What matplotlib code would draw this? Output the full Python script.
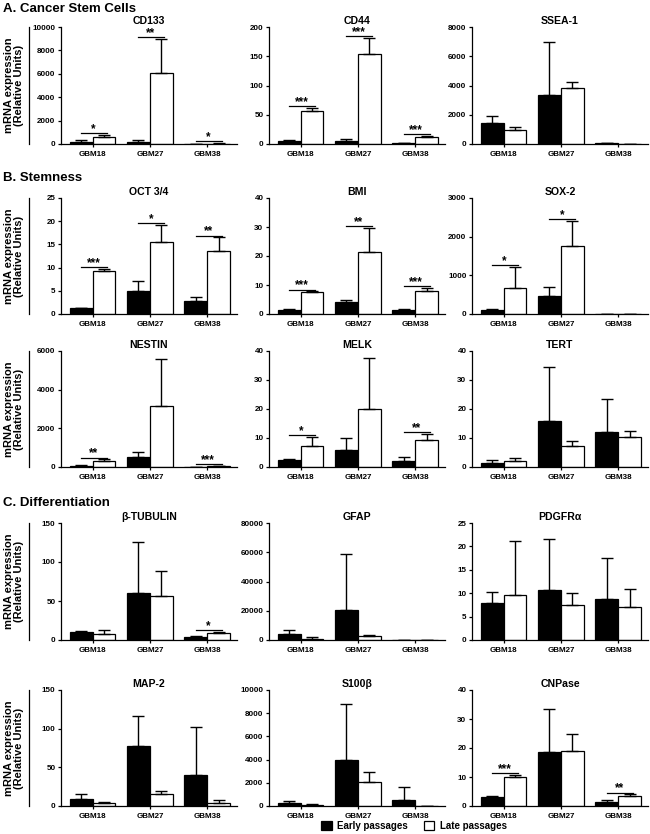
import matplotlib
matplotlib.use("Agg")
import matplotlib.pyplot as plt
from matplotlib.patches import Patch
from matplotlib.lines import Line2D
import numpy as np

plt.rcParams['font.family'] = ['Liberation Sans', 'DejaVu Sans']
plt.rcParams['font.weight'] = 'bold'

cell_lines = ['GBM18', 'GBM27', 'GBM38']

# mean and SD (upper error) for early / late passages, one block per gene
cd133_early = [200, 150, 20]
cd133_early_sd = [100, 230, 15]
cd133_late = [600, 6100, 40]
cd133_late_sd = [150, 2900, 30]
cd133_sig = ['*', '**', '*']

cd44_early = [5, 5, 1]
cd44_early_sd = [1, 3, 0.5]
cd44_late = [56, 153, 12]
cd44_late_sd = [6, 29, 2]
cd44_sig = ['***', '***', '***']

ssea1_early = [1450, 3350, 50]
ssea1_early_sd = [450, 3600, 20]
ssea1_late = [950, 3850, 10]
ssea1_late_sd = [200, 400, 0]
ssea1_sig = ['', '', '']

oct_early = [1.2, 4.9, 2.8]
oct_early_sd = [0.2, 2.2, 0.9]
oct_late = [9.3, 15.5, 13.6]
oct_late_sd = [0.4, 3.7, 2.9]
oct_sig = ['***', '*', '**']

bmi_early = [1.5, 4.3, 1.4]
bmi_early_sd = [0.3, 0.7, 0.3]
bmi_late = [7.5, 21.4, 8.0]
bmi_late_sd = [0.3, 8.4, 1.0]
bmi_sig = ['***', '**', '***']

sox2_early = [110, 470, 0]
sox2_early_sd = [30, 230, 0]
sox2_late = [680, 1750, 0]
sox2_late_sd = [540, 650, 0]
sox2_sig = ['*', '*', '']

nestin_early = [70, 530, 10]
nestin_early_sd = [40, 250, 5]
nestin_late = [330, 3150, 30]
nestin_late_sd = [70, 2450, 10]
nestin_sig = ['**', '', '***']

melk_early = [2.3, 5.8, 2.1]
melk_early_sd = [0.5, 4.2, 1.2]
melk_late = [7.3, 20.0, 9.2]
melk_late_sd = [3.2, 17.6, 2.3]
melk_sig = ['*', '', '**']

tert_early = [1.5, 15.7, 12.1]
tert_early_sd = [1.0, 18.9, 11.3]
tert_late = [2.0, 7.2, 10.5]
tert_late_sd = [1.0, 1.8, 1.8]
tert_sig = ['', '', '']

btub_early = [10, 60, 3.5]
btub_early_sd = [1, 66, 2]
btub_late = [7.5, 56, 9.5]
btub_late_sd = [5, 33, 1]
btub_sig = ['', '', '*']

gfap_early = [4000, 20500, 0]
gfap_early_sd = [2500, 38000, 0]
gfap_late = [1000, 2500, 0]
gfap_late_sd = [1200, 1000, 0]
gfap_sig = ['', '', '']

pdgfra_early = [8.0, 10.7, 8.7]
pdgfra_early_sd = [2.3, 10.9, 8.9]
pdgfra_late = [9.7, 7.5, 7.1]
pdgfra_late_sd = [11.4, 2.6, 3.8]
pdgfra_sig = ['', '', '']

map2_early = [9, 77, 40]
map2_early_sd = [6, 40, 62]
map2_late = [4, 16, 4]
map2_late_sd = [1, 4, 4]
map2_sig = ['', '', '']

s100b_early = [250, 4000, 500]
s100b_early_sd = [150, 4800, 1100]
s100b_late = [100, 2100, 0]
s100b_late_sd = [50, 800, 0]
s100b_sig = ['', '', '']

cnp_early = [3.0, 18.5, 1.5]
cnp_early_sd = [0.3, 15.0, 0.5]
cnp_late = [10.0, 19.0, 3.5]
cnp_late_sd = [0.8, 6.0, 0.5]
cnp_sig = ['***', '', '**']

panels = [
    ('CD133', cd133_early, cd133_early_sd, cd133_late, cd133_late_sd, cd133_sig, 10000, 2000),
    ('CD44', cd44_early, cd44_early_sd, cd44_late, cd44_late_sd, cd44_sig, 200, 50),
    ('SSEA-1', ssea1_early, ssea1_early_sd, ssea1_late, ssea1_late_sd, ssea1_sig, 8000, 2000),
    ('OCT 3/4', oct_early, oct_early_sd, oct_late, oct_late_sd, oct_sig, 25, 5),
    ('BMI', bmi_early, bmi_early_sd, bmi_late, bmi_late_sd, bmi_sig, 40, 10),
    ('SOX-2', sox2_early, sox2_early_sd, sox2_late, sox2_late_sd, sox2_sig, 3000, 1000),
    ('NESTIN', nestin_early, nestin_early_sd, nestin_late, nestin_late_sd, nestin_sig, 6000, 2000),
    ('MELK', melk_early, melk_early_sd, melk_late, melk_late_sd, melk_sig, 40, 10),
    ('TERT', tert_early, tert_early_sd, tert_late, tert_late_sd, tert_sig, 40, 10),
    ('β-TUBULIN', btub_early, btub_early_sd, btub_late, btub_late_sd, btub_sig, 150, 50),
    ('GFAP', gfap_early, gfap_early_sd, gfap_late, gfap_late_sd, gfap_sig, 80000, 20000),
    ('PDGFRα', pdgfra_early, pdgfra_early_sd, pdgfra_late, pdgfra_late_sd, pdgfra_sig, 25, 5),
    ('MAP-2', map2_early, map2_early_sd, map2_late, map2_late_sd, map2_sig, 150, 50),
    ('S100β', s100b_early, s100b_early_sd, s100b_late, s100b_late_sd, s100b_sig, 10000, 2000),
    ('CNPase', cnp_early, cnp_early_sd, cnp_late, cnp_late_sd, cnp_sig, 40, 10),
]

W, H = 650, 834
fig = plt.figure(figsize=(W / 100, H / 100), dpi=100)

# layout in pixels: column left edges, row (top, zero-line)
col_left = [61, 269, 472]
col_width = 176
rows = [(27, 144), (198, 314), (351, 467), (523, 640), (690, 806)]

bw = 0.4
x = np.arange(3)

for i, (name, em, esd, lm, lsd, sig, ymax, step) in enumerate(panels):
    r, c = divmod(i, 3)
    top, zero = rows[r]
    ax = fig.add_axes([col_left[c] / W, 1 - zero / H, col_width / W, (zero - top) / H])
    ax.bar(x - bw / 2, em, bw, color='black', edgecolor='black', linewidth=0.9, zorder=2)
    ax.bar(x + bw / 2, lm, bw, color='white', edgecolor='black', linewidth=0.9, zorder=2)
    ax.errorbar(x - bw / 2, em, yerr=[np.zeros(3), esd], fmt='none', ecolor='black',
                elinewidth=1.0, capsize=4.5, capthick=1.0, zorder=3)
    ax.errorbar(x + bw / 2, lm, yerr=[np.zeros(3), lsd], fmt='none', ecolor='black',
                elinewidth=1.0, capsize=4.5, capthick=1.0, zorder=3)
    for j, s in enumerate(sig):
        if not s:
            continue
        yline = max(em[j] + esd[j], lm[j] + lsd[j]) + 0.015 * ymax
        ax.plot([x[j] - bw / 2, x[j] + bw / 2 + 0.05], [yline, yline], color='black', lw=0.9,
                clip_on=False, zorder=4)
        ax.annotate(s, xy=(x[j] + 0.02, yline), xytext=(0, 0.8), textcoords='offset points',
                    ha='center', va='baseline', fontsize=8.5, fontweight='bold',
                    annotation_clip=False)
    ax.set_xlim(-0.55, 2.52)
    ax.set_ylim(0, ymax)
    ax.set_yticks(np.arange(0, ymax + step / 2, step))
    ax.set_xticks(x)
    ax.set_xticklabels(cell_lines)
    ax.tick_params(labelsize=5.8, width=0.9, length=2.5, pad=1.5)
    for lab in ax.get_xticklabels() + ax.get_yticklabels():
        lab.set_fontweight('bold')
    ax.tick_params(axis='x', pad=2.5)
    for sp in ['top', 'right']:
        ax.spines[sp].set_visible(False)
    for sp in ['left', 'bottom']:
        ax.spines[sp].set_linewidth(0.9)
    ax.set_title(name, fontsize=7.6, fontweight='bold', pad=2.5)

    if c == 0:
        fig.add_artist(Line2D([29 / W, 29 / W], [1 - top / H, 1 - zero / H],
                              transform=fig.transFigure, color='black', lw=0.9))
        fig.text(14 / W, 1 - (top + zero) / 2 / H, 'mRNA expression\n(Relative Units)',
                 rotation=90, ha='center', va='center', fontsize=8, fontweight='bold',
                 multialignment='center', linespacing=1.1)

# section headers
fig.text(3 / W, 1 - 9 / H, 'A. Cancer Stem Cells', fontsize=9.5, fontweight='bold', va='center')
fig.text(3 / W, 1 - 178 / H, 'B. Stemness', fontsize=9.5, fontweight='bold', va='center')
fig.text(3 / W, 1 - 503 / H, 'C. Differentiation', fontsize=9.5, fontweight='bold', va='center')

handles = [Patch(facecolor='black', edgecolor='black', linewidth=0.9),
           Patch(facecolor='white', edgecolor='black', linewidth=0.9)]
fig.legend(handles, ['Early passages', 'Late passages'], loc='center',
           bbox_to_anchor=(414 / W, 1 - 826 / H), ncol=2, frameon=False,
           prop=dict(weight='bold', size=7), handlelength=1.1, handleheight=1.1,
           columnspacing=1.6, handletextpad=0.6, borderpad=0)

fig.savefig('out.png', dpi=100)
